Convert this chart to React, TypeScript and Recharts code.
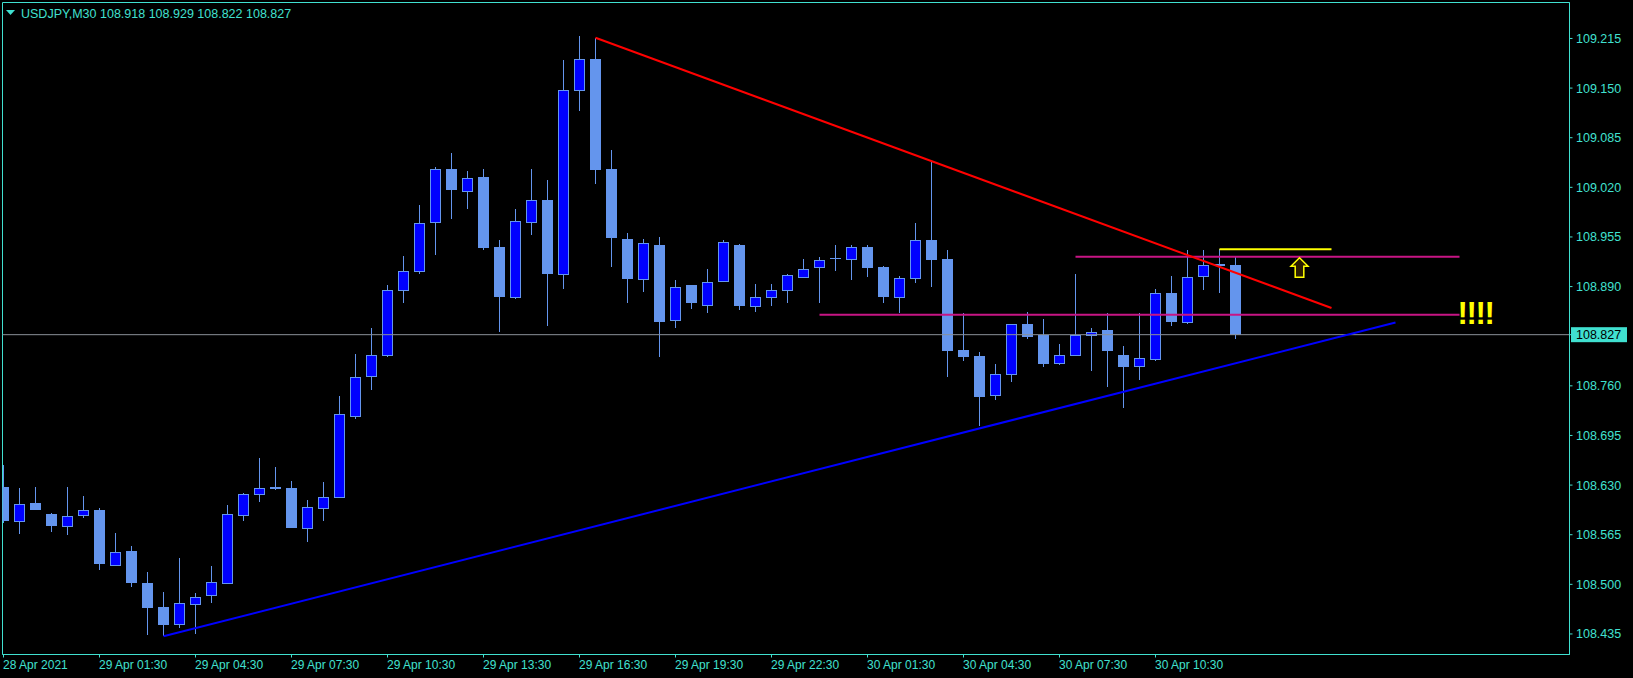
import {
  ComposedChart,
  Bar,
  XAxis,
  YAxis,
  ReferenceLine,
  ReferenceArea,
  ReferenceDot,
} from "recharts";

// USDJPY M30 candles, bar 0 = 28 Apr 22:30
const symbol = "USDJPY,M30";

const opens = [
  108.628, 108.583, 108.607, 108.592, 108.577, 108.591, 108.597, 108.525, 108.544, 108.502,
  108.47, 108.448, 108.474, 108.486, 108.502, 108.591, 108.618, 108.626, 108.626, 108.574,
  108.6, 108.614, 108.72, 108.773, 108.801, 108.885, 108.911, 108.974, 109.044, 109.015,
  109.033, 108.942, 108.877, 108.974, 109.004, 108.906, 109.147, 109.188, 109.044, 108.952,
  108.9, 108.945, 108.846, 108.892, 108.866, 108.897, 108.944, 108.864, 108.876, 108.885,
  108.902, 108.915, 108.927, 108.926, 108.942, 108.915, 108.877, 108.901, 108.951, 108.926,
  108.807, 108.799, 108.748, 108.775, 108.841, 108.826, 108.79, 108.801, 108.827, 108.833,
  108.801, 108.786, 108.795, 108.881, 108.843, 108.904, 108.919, 108.918,
];
const highs = [
  108.656, 108.626, 108.628, 108.594, 108.628, 108.616, 108.6, 108.567, 108.55, 108.516,
  108.49, 108.535, 108.489, 108.524, 108.604, 108.62, 108.666, 108.654, 108.635, 108.61,
  108.634, 108.747, 108.802, 108.836, 108.892, 108.93, 108.997, 109.046, 109.065, 109.041,
  109.044, 108.951, 108.992, 109.044, 109.03, 109.187, 109.218, 109.216, 109.069, 108.96,
  108.952, 108.955, 108.898, 108.892, 108.913, 108.951, 108.946, 108.893, 108.894, 108.906,
  108.926, 108.929, 108.944, 108.945, 108.945, 108.917, 108.904, 108.973, 109.054, 108.938,
  108.855, 108.804, 108.789, 108.841, 108.857, 108.848, 108.815, 108.907, 108.836, 108.856,
  108.812, 108.856, 108.887, 108.904, 108.938, 108.938, 108.939, 108.929,
];
const lows = [
  108.58, 108.566, 108.597, 108.569, 108.565, 108.587, 108.519, 108.525, 108.497, 108.433,
  108.432, 108.443, 108.435, 108.476, 108.502, 108.583, 108.608, 108.624, 108.574, 108.555,
  108.583, 108.614, 108.716, 108.754, 108.798, 108.869, 108.906, 108.931, 108.978, 108.991,
  108.938, 108.83, 108.874, 108.958, 108.839, 108.887, 109.12, 109.025, 108.915, 108.869,
  108.883, 108.798, 108.836, 108.86, 108.856, 108.897, 108.859, 108.857, 108.864, 108.868,
  108.902, 108.869, 108.91, 108.898, 108.903, 108.868, 108.855, 108.895, 108.89, 108.771,
  108.793, 108.707, 108.741, 108.765, 108.822, 108.785, 108.787, 108.801, 108.779, 108.759,
  108.731, 108.767, 108.792, 108.838, 108.841, 108.885, 108.881, 108.822,
];
const closes = [
  108.583, 108.605, 108.597, 108.576, 108.589, 108.598, 108.526, 108.542, 108.502, 108.469,
  108.447, 108.475, 108.484, 108.503, 108.592, 108.618, 108.626, 108.627, 108.574, 108.601,
  108.614, 108.723, 108.771, 108.8, 108.885, 108.911, 108.973, 109.044, 109.016, 109.032,
  108.94, 108.877, 108.976, 109.004, 108.907, 109.148, 109.188, 109.043, 108.953, 108.9,
  108.947, 108.844, 108.89, 108.868, 108.896, 108.948, 108.864, 108.877, 108.885, 108.905,
  108.913, 108.925, 108.926, 108.942, 108.914, 108.877, 108.901, 108.951, 108.925, 108.806,
  108.798, 108.746, 108.775, 108.841, 108.824, 108.789, 108.801, 108.826, 108.83, 108.805,
  108.785, 108.796, 108.881, 108.843, 108.902, 108.918, 108.917, 108.827,
];

const timeTicks = [0, 6, 12, 18, 24, 30, 36, 42, 48, 54, 60, 66, 72];
const timeLabels = [
  "28 Apr 2021", "29 Apr 01:30", "29 Apr 04:30", "29 Apr 07:30", "29 Apr 10:30",
  "29 Apr 13:30", "29 Apr 16:30", "29 Apr 19:30", "29 Apr 22:30", "30 Apr 01:30",
  "30 Apr 04:30", "30 Apr 07:30", "30 Apr 10:30",
];

const priceTicks = [
  108.435, 108.5, 108.565, 108.63, 108.695, 108.76, 108.827, 108.89, 108.955,
  109.02, 109.085, 109.15, 109.215,
];
const lastPrice = 108.827;

// chart objects (bar index, price)
const resistanceLine = [{ x: 37, y: 109.216 }, { x: 83, y: 108.862 }];
const supportLine = [{ x: 10, y: 108.432 }, { x: 87, y: 108.843 }];
const levelLines = [
  { y: 108.929, from: 67, to: 91 },
  { y: 108.853, from: 51, to: 91 },
];
const targetLine = { y: 108.939, from: 76, to: 83 };
const arrowMark = { x: 81, y: 108.915 };
const noteMark = { x: 92, y: 108.841, text: "!!!!" };

const X_MIN = -0.0625;
const X_MAX = 97.875;
const Y_MIN = 108.4081;
const Y_MAX = 109.2621;

const FG = "#40E0D0";
const WICK = "#6495ED";
const BULL = "#0000FF";
const FONT = "'Liberation Sans', Arial, sans-serif";

const rows = opens.map((o, i) => ({
  i,
  open: o,
  high: highs[i],
  low: lows[i],
  close: closes[i],
  range: [lows[i], highs[i]],
}));

function Candle(props: any) {
  const { x, y, width, height, payload } = props;
  if (x == null || y == null || !payload) return null;
  const top = Math.min(y, y + height);
  const bottom = Math.max(y, y + height);
  const span = payload.high - payload.low;
  const k = span > 0 ? (bottom - top) / span : 0;
  const toY = (p: number) => top + (payload.high - p) * k;
  const cx = Math.round(x + width / 2 - 0.5) + 0.5;
  const bull = payload.close > payload.open;
  const bTop = Math.round(toY(Math.max(payload.open, payload.close)));
  const bBot = Math.round(toY(Math.min(payload.open, payload.close)));
  return (
    <g>
      <line x1={cx} x2={cx} y1={Math.round(top)} y2={Math.round(bottom)} stroke={WICK} strokeWidth={1} />
      {bull ? (
        <rect x={cx - 5} y={bTop + 0.5} width={10} height={Math.max(bBot - bTop, 1)} fill={BULL} stroke={WICK} strokeWidth={1} />
      ) : (
        <rect x={cx - 5.5} y={bTop} width={11} height={Math.max(bBot - bTop, 1)} fill={WICK} />
      )}
    </g>
  );
}

function PriceTick(props: any) {
  const { x, y, payload } = props;
  const v = payload.value as number;
  if (Math.abs(v - lastPrice) < 1e-9) {
    return (
      <g>
        <rect x={x - 1.5} y={y - 7.5} width={56} height={15} fill={FG} />
        <text x={x + 3.5} y={y} dy="0.36em" fill="#000" fontSize={12.5} fontFamily={FONT}>
          {v.toFixed(3)}
        </text>
      </g>
    );
  }
  return (
    <text x={x + 3.5} y={y} dy="0.36em" fill={FG} fontSize={12.5} fontFamily={FONT}>
      {v.toFixed(3)}
    </text>
  );
}

function TimeTick(props: any) {
  const { x, y, payload } = props;
  const idx = timeTicks.indexOf(payload.value);
  return (
    <text x={x - 0.5} y={y + 11.5} fill={FG} fontSize={12} fontFamily={FONT}>
      {timeLabels[idx]}
    </text>
  );
}

function UpArrow(props: any) {
  const { cx, cy } = props;
  const d = `M${cx},${cy - 9.7} L${cx + 8.5},${cy - 1.3} L${cx + 4.3},${cy - 1.3} L${cx + 4.3},${cy + 9.7} L${cx - 4.3},${cy + 9.7} L${cx - 4.3},${cy - 1.3} L${cx - 8.5},${cy - 1.3} Z`;
  return <path d={d} fill="#2a1c00" stroke="#FFFF00" strokeWidth={1.5} />;
}

function Note(props: any) {
  const { cx, cy } = props;
  return (
    <text x={cx} y={cy} textAnchor="middle" fill="#FFFF00" fontSize={31} fontWeight="bold" letterSpacing={-1.3} fontFamily={FONT}>
      {noteMark.text}
    </text>
  );
}

export default function App() {
  return (
    <div style={{ position: "absolute", left: 0, top: 0, width: 1633, height: 678, background: "#000" }}>
      <ComposedChart
        width={1633}
        height={678}
        data={rows}
        margin={{ top: 2.5, right: 0, bottom: 0, left: 2.5 }}
        style={{ background: "#000" }}
      >
        <XAxis
          dataKey="i"
          type="number"
          domain={[X_MIN, X_MAX]}
          allowDataOverflow
          ticks={timeTicks}
          interval={0}
          height={23.5}
          tickSize={3}
          tickMargin={0}
          axisLine={{ stroke: FG }}
          tickLine={{ stroke: FG }}
          tick={<TimeTick />}
        />
        <YAxis
          orientation="right"
          type="number"
          domain={[Y_MIN, Y_MAX]}
          allowDataOverflow
          ticks={priceTicks}
          interval={0}
          width={63.5}
          tickSize={3}
          tickMargin={0}
          axisLine={{ stroke: FG }}
          tickLine={{ stroke: FG }}
          tick={<PriceTick />}
        />
        <ReferenceArea x1={X_MIN} x2={X_MAX} y1={Y_MIN} y2={Y_MAX} fill="none" stroke={FG} strokeWidth={1} ifOverflow="visible" />
        <Bar dataKey="range" barSize={11} isAnimationActive={false} shape={(p: any) => <Candle {...p} />} />
        <ReferenceLine y={lastPrice} stroke="#8a9099" strokeWidth={1} />
        {levelLines.map((l, n) => (
          <ReferenceLine key={n} segment={[{ x: l.from, y: l.y }, { x: l.to, y: l.y }]} stroke="#C71585" strokeWidth={2} />
        ))}
        <ReferenceLine segment={[{ x: targetLine.from, y: targetLine.y }, { x: targetLine.to, y: targetLine.y }]} stroke="#FFFF00" strokeWidth={2} />
        <ReferenceLine segment={resistanceLine} stroke="#FF0000" strokeWidth={2} />
        <ReferenceLine segment={supportLine} stroke="#0000FF" strokeWidth={2} />
        <ReferenceDot x={arrowMark.x} y={arrowMark.y} ifOverflow="visible" shape={(p: any) => <UpArrow {...p} />} />
        <ReferenceDot x={noteMark.x} y={noteMark.y} ifOverflow="visible" shape={(p: any) => <Note {...p} />} />
      </ComposedChart>
      <svg width={400} height={24} style={{ position: "absolute", left: 0, top: 0 }}>
        <polygon points="6,10 15,10 10.5,15" fill={FG} />
        <text x={21} y={17.5} fill={FG} fontSize={12.5} fontFamily={FONT}>
          {symbol}
        </text>
        <text x={100} y={17.5} fill={FG} fontSize={12.5} fontFamily={FONT}>
          {`${opens[77]} ${highs[77]} ${lows[77]} ${closes[77]}`}
        </text>
      </svg>
    </div>
  );
}
